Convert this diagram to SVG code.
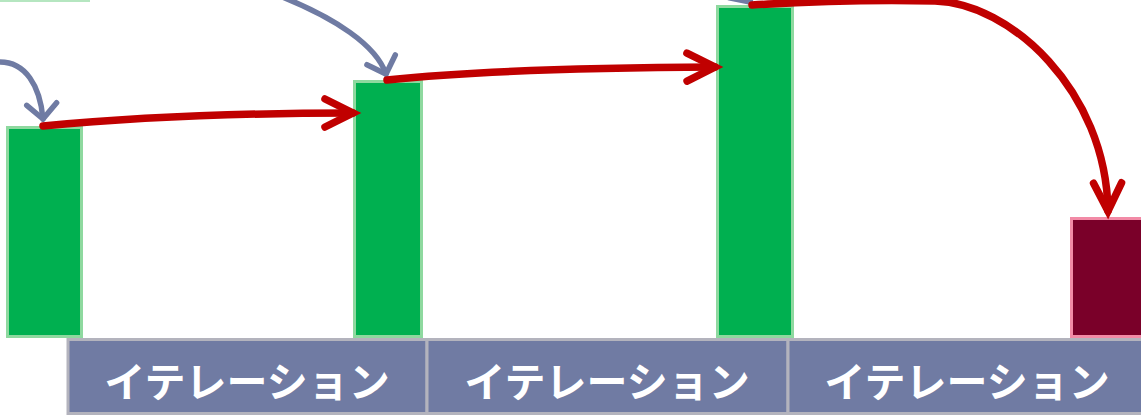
<svg xmlns="http://www.w3.org/2000/svg" width="1141" height="415" viewBox="0 0 1141 415">
<style>
.bar{fill:#00b050;stroke:#8ed99f;stroke-width:3}
.goal{fill:#7a0029;stroke:#f28aa6;stroke-width:3}
.lbl{fill:#707ba3;stroke:#b3b3bd;stroke-width:3}
.lt{fill:#ffffff;font-family:"Noto Sans CJK JP","Noto Sans CJK SC",sans-serif;font-size:41px;font-weight:700;text-anchor:middle}
.red{fill:none;stroke:#c00000;stroke-width:7.5;stroke-linecap:round;marker-end:url(#rh)}
.blue{fill:none;stroke:#6f7ba3;stroke-width:5.5;stroke-linecap:round;marker-end:url(#bh)}
</style>
<defs>
<marker id="rh" markerUnits="userSpaceOnUse" orient="auto" overflow="visible" markerWidth="40" markerHeight="40" refX="0" refY="0">
<path d="M-28,-14 L0,0 L-28,14" fill="none" stroke="#c00000" stroke-width="7.5" stroke-linecap="round"/>
</marker>
<marker id="bh" markerUnits="userSpaceOnUse" orient="auto" overflow="visible" markerWidth="30" markerHeight="30" refX="0" refY="0">
<path d="M-15,-15 L0,0 L-15,15" fill="none" stroke="#6f7ba3" stroke-width="5.5" stroke-linecap="round"/>
</marker>
</defs>
<rect width="1141" height="415" fill="#ffffff"/>
<g id="top-box"><rect x="-10" y="-40" width="99" height="41" fill="#ffffff" stroke="#b5e6c0" stroke-width="2"/></g>
<g id="label1"><rect class="lbl" x="68" y="339.5" width="359" height="74"/><text class="lt" x="247" y="397">イテレーション</text></g>
<g id="label2"><rect class="lbl" x="427" y="339.5" width="361" height="74"/><text class="lt" x="607" y="397">イテレーション</text></g>
<g id="label3"><rect class="lbl" x="788" y="339.5" width="361" height="74"/><text class="lt" x="967" y="397">イテレーション</text></g>
<g id="bar1"><rect class="bar" x="7.5" y="127.5" width="74" height="209"/></g>
<g id="bar2"><rect class="bar" x="354.5" y="81.5" width="67" height="255"/></g>
<g id="bar3"><rect class="bar" x="717.5" y="6.5" width="75" height="330"/></g>
<g id="goal"><rect class="goal" x="1071.5" y="218.5" width="80" height="118"/></g>
<g id="connectors">
<path class="blue" d="M0,62 C25,62 40,85 43,119"/>
<path class="blue" d="M280,-4 C335,18 376,45 386,74"/>
<path class="blue" d="M700,-40 C725,-25 742,-10 750,2"/>
<path class="red" d="M43,126 Q180,113 353,113"/>
<path class="red" d="M387,80 Q500,68 715,67"/>
<path class="red" d="M752,5 Q850,-1 935,1 C1010,3 1106,90 1108,211"/>
</g>
</svg>
